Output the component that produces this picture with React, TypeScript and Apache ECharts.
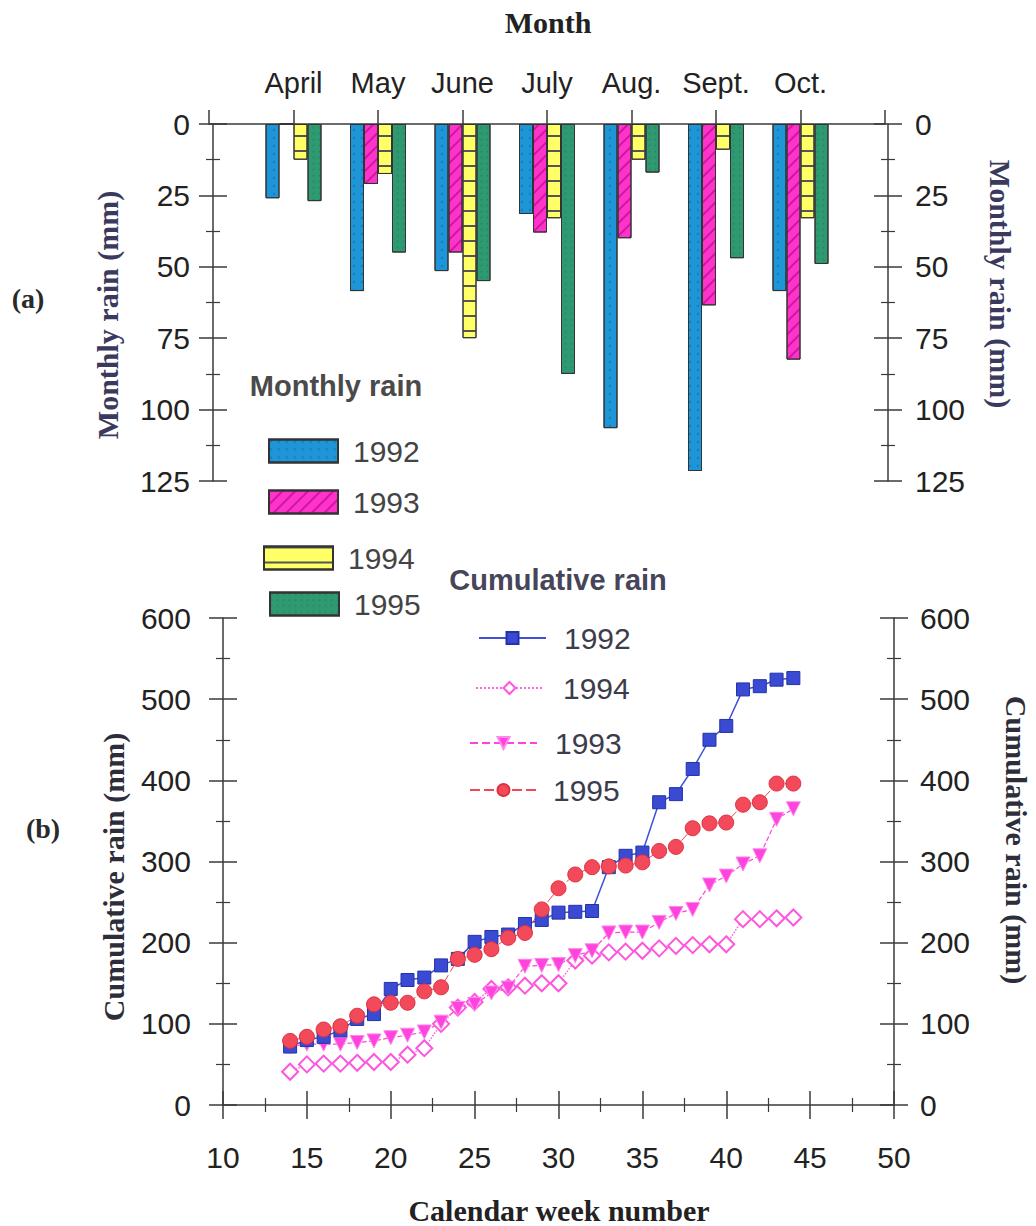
import React, { useEffect, useRef } from 'react';
import * as echarts from 'echarts';

// ---- data ----
const months = ['April', 'May', 'June', 'July', 'Aug.', 'Sept.', 'Oct.'];
const monthly1992 = [26, 58.5, 51.5, 31.5, 106.5, 121.5, 58.5];
const monthly1993 = [0, 21, 45, 38, 40, 63.5, 82.5];
const monthly1994 = [12.5, 17.5, 75, 33, 12.5, 9, 33];
const monthly1995 = [27, 45, 55, 87.5, 17, 47, 49];
const monthlyTicks = [0, 25, 50, 75, 100, 125];

const weeks = [14, 15, 16, 17, 18, 19, 20, 21, 22, 23, 24, 25, 26, 27, 28, 29, 30, 31, 32, 33, 34, 35, 36, 37, 38, 39, 40, 41, 42, 43, 44];
const cum1992 = [72, 80, 84, 92, 106, 112, 143, 154, 157, 172, 180, 201, 207, 210, 223, 228, 237, 238, 239, 293, 307, 311, 373, 383, 414, 450, 467, 512, 516, 524, 526];
const cum1993 = [72, 75, 75, 75, 77, 79, 83, 86, 90, 102, 119, 124, 138, 144, 171, 172, 173, 184, 190, 212, 213, 213, 225, 236, 241, 271, 282, 297, 307, 352, 365];
const cum1994 = [41, 50, 51, 51, 52, 53, 53, 62, 70, 100, 120, 127, 143, 145, 147, 150, 150, 178, 184, 188, 189, 190, 193, 196, 197, 198, 198, 229, 229, 230, 231];
const cum1995 = [79, 84, 93, 97, 110, 124, 126, 126, 140, 145, 180, 185, 192, 206, 212, 241, 267, 284, 293, 294, 295, 299, 313, 318, 341, 347, 348, 370, 373, 396, 396];
const weekTicks = [10, 15, 20, 25, 30, 35, 40, 45, 50];
const cumTicks = [0, 100, 200, 300, 400, 500, 600];

const SANS = '"Liberation Sans", Arial, Helvetica, sans-serif';
const SERIF = '"Liberation Serif", "Times New Roman", Times, serif';
const AX = '#3a3a3a';
const lineSt = { color: AX, width: 1.5 };

function vAxis(opts: any, inside: boolean) {
  return {
    type: 'value',
    splitLine: { show: false },
    axisLine: { show: !inside, onZero: false, lineStyle: lineSt },
    axisTick: { show: true, inside, length: 14, lineStyle: lineSt },
    minorTick: { show: true, splitNumber: 2, length: 7, lineStyle: { color: AX, width: 1.2 } },
    axisLabel: inside ? { show: false } : { show: true, fontSize: 30, color: '#222', fontFamily: SANS, margin: opts.margin },
    ...opts.base,
  };
}

function barSeries(name: string, values: number[], color: string, decal: any) {
  return {
    type: 'bar',
    name,
    xAxisIndex: 0,
    yAxisIndex: 0,
    barWidth: 14,
    barGap: '0%',
    data: [null, ...values, null],
    itemStyle: { color, borderColor: '#333', borderWidth: 1, decal },
  };
}

function barLegend(name: string, left: number, top: number) {
  return {
    data: [name],
    left,
    top,
    padding: 0,
    icon: 'rect',
    itemWidth: 69,
    itemHeight: 23,
    selectedMode: false,
    formatter: (n: string) => n.slice(-4),
    textStyle: { fontSize: 30, lineHeight: 30, color: '#444', fontFamily: SANS, padding: [0, 0, 0, 10] },
  };
}

function lineLegend(name: string, left: number, top: number, gap: number) {
  return {
    data: [name],
    left,
    top,
    padding: 0,
    itemWidth: 67,
    itemHeight: 15,
    selectedMode: false,
    formatter: (n: string) => n.slice(-4),
    textStyle: { fontSize: 30, lineHeight: 30, color: '#3c3c4c', fontFamily: SANS, padding: [0, 0, 0, gap] },
  };
}

const pairs = (vals: number[]) => weeks.map((w, i) => [w, vals[i]]);

function buildOption(): any {
  const topBase = { gridIndex: 0, inverse: true, min: monthlyTicks[0], max: monthlyTicks[monthlyTicks.length - 1], interval: 25 };
  const botBase = { gridIndex: 1, min: cumTicks[0], max: cumTicks[cumTicks.length - 1], interval: 100 };
  const xBotBase = { gridIndex: 1, min: weekTicks[0], max: weekTicks[weekTicks.length - 1], interval: 5, position: 'bottom' };
  return {
    animation: false,
    backgroundColor: '#ffffff',
    grid: [
      { left: 209, top: 124, width: 676, height: 357 },
      { left: 223, top: 618, width: 671, height: 487 },
    ],
    xAxis: [
      {
        type: 'category',
        gridIndex: 0,
        position: 'top',
        boundaryGap: false,
        data: ['', ...months, ''],
        axisLine: { onZero: false, lineStyle: lineSt },
        axisTick: { show: true, length: 14, lineStyle: lineSt },
        axisLabel: { interval: 0, fontSize: 29, color: '#222', fontFamily: SANS, margin: 27 },
        splitLine: { show: false },
      },
      vAxis({ base: xBotBase, margin: 37 }, false),
      { ...vAxis({ base: xBotBase }, true), axisLine: { show: false } },
    ],
    yAxis: [
      vAxis({ base: { ...topBase, position: 'left', offset: -4 }, margin: 23 }, false),
      vAxis({ base: { ...topBase, position: 'left', offset: -4 } }, true),
      vAxis({ base: { ...topBase, position: 'right', offset: 3 }, margin: 27 }, false),
      vAxis({ base: { ...topBase, position: 'right', offset: 3 } }, true),
      vAxis({ base: { ...botBase, position: 'left' }, margin: 32 }, false),
      vAxis({ base: { ...botBase, position: 'left' } }, true),
      vAxis({ base: { ...botBase, position: 'right' }, margin: 26 }, false),
      vAxis({ base: { ...botBase, position: 'right' } }, true),
    ],
    legend: [
      barLegend('Monthly rain 1992', 268, 436),
      barLegend('Monthly rain 1993', 268, 487),
      barLegend('Monthly rain 1994', 263, 543),
      barLegend('Monthly rain 1995', 269, 589),
      lineLegend('Cumulative rain 1992', 478, 623, 13),
      lineLegend('Cumulative rain 1994', 475, 673, 15),
      lineLegend('Cumulative rain 1993', 469, 728, 13),
      lineLegend('Cumulative rain 1995', 469, 775, 11),
    ],
    series: [
      barSeries('Monthly rain 1992', monthly1992, '#1d95d6', {
        symbol: 'circle', symbolSize: 0.6, dashArrayX: [4, 4], dashArrayY: [4, 4], color: 'rgba(0,40,110,0.22)',
      }),
      barSeries('Monthly rain 1993', monthly1993, '#ff33cc', {
        symbol: 'rect', symbolSize: 1, dashArrayX: [1, 0], dashArrayY: [1.5, 7], rotation: -Math.PI / 4, color: 'rgba(150,0,110,0.5)',
      }),
      barSeries('Monthly rain 1994', monthly1994, '#ffff66', {
        symbol: 'rect', symbolSize: 1, dashArrayX: [1, 0], dashArrayY: [1.3, 12.7], color: '#555',
      }),
      barSeries('Monthly rain 1995', monthly1995, '#2f9a72', {
        symbol: 'rect', symbolSize: 0.6, dashArrayX: [3, 3], dashArrayY: [3, 3], color: 'rgba(0,60,40,0.18)',
      }),
      {
        type: 'line', name: 'Cumulative rain 1994', xAxisIndex: 1, yAxisIndex: 4,
        data: pairs(cum1994), symbol: 'emptyDiamond', symbolSize: 16,
        lineStyle: { color: '#ff66dd', width: 1.5, type: 'dotted' },
        itemStyle: { color: '#ff55dd', borderWidth: 1.5 },
      },
      {
        type: 'line', name: 'Cumulative rain 1993', xAxisIndex: 1, yAxisIndex: 4,
        data: pairs(cum1993), symbol: 'triangle', symbolRotate: 180, symbolSize: 14,
        lineStyle: { color: '#ff44dd', width: 1.2, type: 'dashed' },
        itemStyle: { color: '#ff44dd', borderColor: '#ff88ee', borderWidth: 1 },
      },
      {
        type: 'line', name: 'Cumulative rain 1992', xAxisIndex: 1, yAxisIndex: 4,
        data: pairs(cum1992), symbol: 'rect', symbolSize: 13,
        lineStyle: { color: '#4050d8', width: 1.5 },
        itemStyle: { color: '#3a4ad2', borderColor: '#2233aa', borderWidth: 1 },
      },
      {
        type: 'line', name: 'Cumulative rain 1995', xAxisIndex: 1, yAxisIndex: 4,
        data: pairs(cum1995), symbol: 'circle', symbolSize: 15,
        lineStyle: { color: '#f0475a', width: 1, type: [10, 4] },
        itemStyle: { color: '#f2495b', borderColor: '#e03040', borderWidth: 1 },
      },
    ],
    graphic: [
      { type: 'text', x: 548, y: 22, style: { text: 'Month', align: 'center', verticalAlign: 'middle', textAlign: 'center', textVerticalAlign: 'middle', fontSize: 30, fontWeight: 'bold', fontFamily: SERIF, fill: '#222' } },
      { type: 'text', x: 28, y: 298, style: { text: '(a)', align: 'center', verticalAlign: 'middle', textAlign: 'center', textVerticalAlign: 'middle', fontSize: 28, fontWeight: 'bold', fontFamily: SERIF, fill: '#2a2a2a' } },
      { type: 'text', x: 43, y: 828, style: { text: '(b)', align: 'center', verticalAlign: 'middle', textAlign: 'center', textVerticalAlign: 'middle', fontSize: 28, fontWeight: 'bold', fontFamily: SERIF, fill: '#2a2a2a' } },
      { type: 'text', x: 107, y: 315, rotation: Math.PI / 2, style: { text: 'Monthly rain (mm)', align: 'center', verticalAlign: 'middle', textAlign: 'center', textVerticalAlign: 'middle', fontSize: 30, fontWeight: 'bold', fontFamily: SERIF, fill: '#3b3a5e' } },
      { type: 'text', x: 1000, y: 284, rotation: -Math.PI / 2, style: { text: 'Monthly rain (mm)', align: 'center', verticalAlign: 'middle', textAlign: 'center', textVerticalAlign: 'middle', fontSize: 30, fontWeight: 'bold', fontFamily: SERIF, fill: '#3b3a5e' } },
      { type: 'text', x: 113, y: 877, rotation: Math.PI / 2, style: { text: 'Cumulative rain (mm)', align: 'center', verticalAlign: 'middle', textAlign: 'center', textVerticalAlign: 'middle', fontSize: 30, fontWeight: 'bold', fontFamily: SERIF, fill: '#2e2e3a' } },
      { type: 'text', x: 1016, y: 840, rotation: -Math.PI / 2, style: { text: 'Cumulative rain (mm)', align: 'center', verticalAlign: 'middle', textAlign: 'center', textVerticalAlign: 'middle', fontSize: 30, fontWeight: 'bold', fontFamily: SERIF, fill: '#2e2e3a' } },
      { type: 'text', x: 559, y: 1210, style: { text: 'Calendar week number', align: 'center', verticalAlign: 'middle', textAlign: 'center', textVerticalAlign: 'middle', fontSize: 30, fontWeight: 'bold', fontFamily: SERIF, fill: '#222' } },
      { type: 'text', x: 336, y: 386, style: { text: 'Monthly rain', align: 'center', verticalAlign: 'middle', textAlign: 'center', textVerticalAlign: 'middle', fontSize: 29, fontWeight: 'bold', fontFamily: SANS, fill: '#4a4a4a' } },
      { type: 'text', x: 558, y: 580, style: { text: 'Cumulative rain', align: 'center', verticalAlign: 'middle', textAlign: 'center', textVerticalAlign: 'middle', fontSize: 29, fontWeight: 'bold', fontFamily: SANS, fill: '#46455a' } },
    ],
  };
}

export default function App() {
  const ref = useRef<HTMLDivElement>(null);
  useEffect(() => {
    if (!ref.current) return;
    const chart = echarts.init(ref.current, null, { renderer: 'svg', width: 1036, height: 1226 });
    chart.setOption(buildOption());
    return () => chart.dispose();
  }, []);
  return (
    <div
      ref={ref}
      style={{ position: 'absolute', left: 0, top: 0, width: 1036, height: 1226, background: '#fff' }}
    />
  );
}
